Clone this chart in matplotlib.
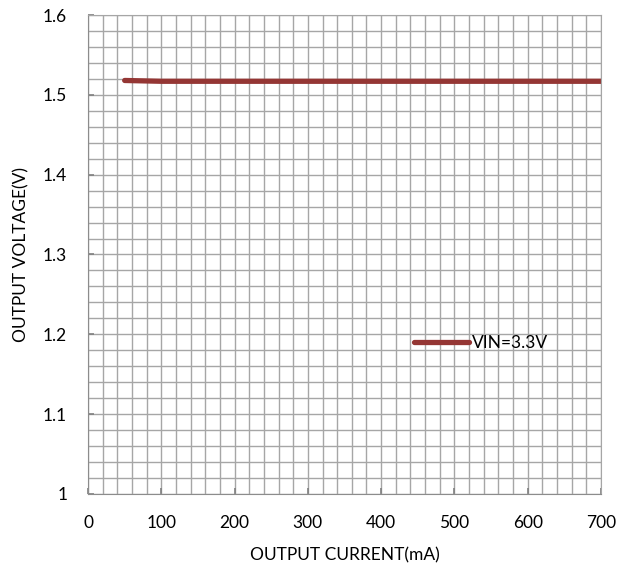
import numpy as np
import matplotlib.pyplot as plt

plt.rcParams['font.family'] = ['Lato', 'DejaVu Sans']

current = [50, 100, 200, 300, 400, 500, 600, 700]
voltage = [1.518, 1.517, 1.517, 1.517, 1.517, 1.517, 1.517, 1.517]
series_label = "VIN=3.3V"

fig = plt.figure(figsize=(6.27, 5.71), dpi=100)
ax = fig.add_axes([0.1404, 0.1349, 0.8181, 0.8388])

ax.set_xlim(0, 700)
ax.set_ylim(1.0, 1.6)
ax.set_xticks(np.arange(0, 701, 100))
ax.set_yticks(np.arange(1.0, 1.61, 0.1))
ax.set_yticklabels(["1", "1.1", "1.2", "1.3", "1.4", "1.5", "1.6"])
ax.set_xticks(np.arange(0, 701, 20), minor=True)
ax.set_yticks(np.arange(1.0, 1.601, 0.02), minor=True)
ax.grid(which='both', color='#a6a6a6', linewidth=1.0)
ax.tick_params(which='major', direction='in', length=4, color='#808080', width=1.2,
               labelsize=12.5, pad=15)
ax.tick_params(which='minor', length=0)

for s in ax.spines.values():
    s.set_color('#a6a6a6')
ax.spines['left'].set_color('#8c8c8c')
ax.spines['bottom'].set_color('#8c8c8c')

ax.plot(current, voltage, color='#943634', linewidth=3.8, solid_capstyle='round', label=series_label)

ax.legend(loc='center left', bbox_to_anchor=(0.635, 0.315), frameon=False, fontsize=12.5,
          handlelength=3.2, handletextpad=0.15, borderpad=0, borderaxespad=0)

ax.set_xlabel("OUTPUT CURRENT(mA)", fontsize=12.5, labelpad=12)
ax.set_ylabel("OUTPUT VOLTAGE(V)", fontsize=12.5, labelpad=10)

fig.savefig("out.png", dpi=100)
